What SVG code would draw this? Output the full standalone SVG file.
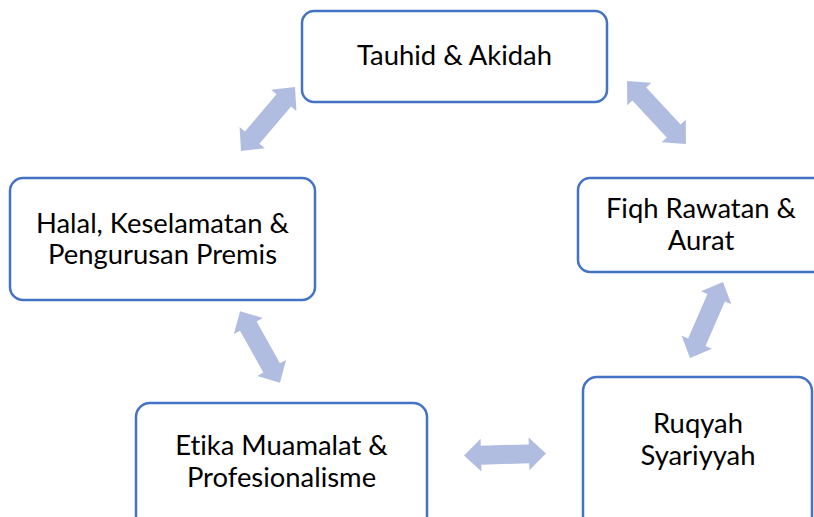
<svg xmlns="http://www.w3.org/2000/svg" xmlns:xlink="http://www.w3.org/1999/xlink" width="814" height="517" viewBox="0 0 814 517">
<style>
.box{fill:#ffffff;stroke:#4472C4;stroke-width:2.5}
.lbl{font-family:Lato,"Liberation Sans",sans-serif;font-size:27.4px;fill:#000000;text-anchor:middle;font-variant-ligatures:none}
.arr{fill:#B0BDE0}
</style>
<defs>
<path id="arr" d="M-41,0 L-24,-16.5 L-24,-9.5 L24,-9.5 L24,-16.5 L41,0 L24,16.5 L24,9.5 L-24,9.5 L-24,16.5 Z"/>
</defs>
<rect width="814" height="517" fill="#ffffff"/>
<g id="connectors" class="arr">
<use xlink:href="#arr" transform="translate(268,119) rotate(-49.8) scale(1.02,1)"/>
<use xlink:href="#arr" transform="translate(656.5,112.5) rotate(46.9) scale(1.05,1)"/>
<use xlink:href="#arr" transform="translate(706.5,320) rotate(113.5) scale(1.01,1)"/>
<use xlink:href="#arr" transform="translate(505,454.5) rotate(-1.5)"/>
<use xlink:href="#arr" transform="translate(260,347) rotate(60.9)"/>
</g>
<g id="tauhid">
<rect class="box" x="302" y="11" width="305" height="91" rx="12"/>
<text class="lbl" x="454.5" y="65">Tauhid &amp; Akidah</text>
</g>
<g id="fiqh">
<rect class="box" x="578" y="178" width="250" height="94" rx="12"/>
<text class="lbl" x="701" y="218">Fiqh Rawatan &amp;</text>
<text class="lbl" x="701" y="250">Aurat</text>
</g>
<g id="ruqyah">
<rect class="box" x="583" y="377" width="229" height="200" rx="14"/>
<text class="lbl" x="698" y="433">Ruqyah</text>
<text class="lbl" x="698" y="465">Syariyyah</text>
</g>
<g id="etika">
<rect class="box" x="136" y="403" width="291" height="150" rx="14"/>
<text class="lbl" x="281.5" y="455">Etika Muamalat &amp;</text>
<text class="lbl" x="281.5" y="487">Profesionalisme</text>
</g>
<g id="halal">
<rect class="box" x="10" y="178" width="305" height="122" rx="13"/>
<text class="lbl" x="162.5" y="233">Halal, Keselamatan &amp;</text>
<text class="lbl" x="162.5" y="264">Pengurusan Premis</text>
</g>
</svg>
